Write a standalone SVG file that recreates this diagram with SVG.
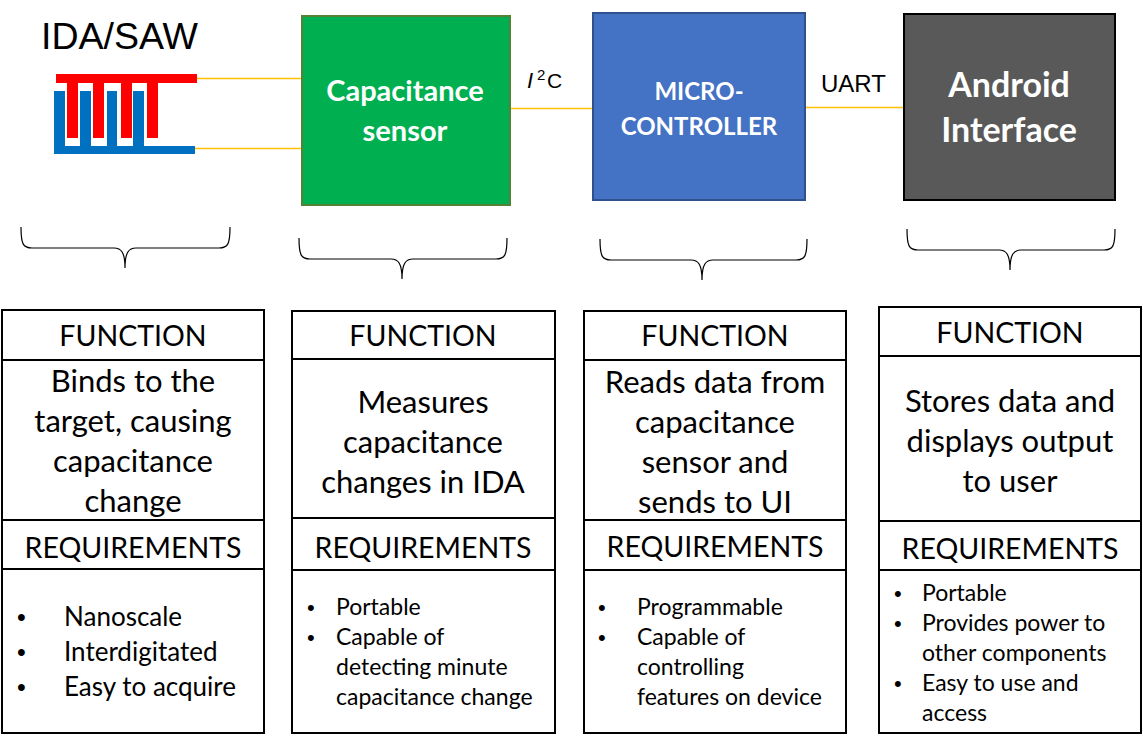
<svg xmlns="http://www.w3.org/2000/svg" width="1143" height="743" viewBox="0 0 1143 743">
<style>
.cal{font-family:Lato,"Open Sans","DejaVu Sans",sans-serif;fill:#000}
.hd{font-size:28.5px;text-anchor:middle}
.fn{font-size:31px;text-anchor:middle}
.rq{font-size:23px}
.rq1{font-size:26px}
.bu{font-family:"Liberation Sans",Arial,sans-serif;font-size:22px;fill:#000}
.bu1{font-family:"Liberation Sans",Arial,sans-serif;font-size:25px;fill:#000}
.cell{fill:#fff;stroke:#000;stroke-width:2}
.brace{fill:none;stroke:#000;stroke-width:1.2}
.wire{stroke:#FFC000;stroke-width:1.5;fill:none}
.bt{font-family:Lato,"Open Sans",sans-serif;font-weight:bold;fill:#fff;text-anchor:middle}
.ar{font-family:"Liberation Sans",Arial,sans-serif;fill:#000}
</style>
<rect width="1143" height="743" fill="#fff"/>

<g id="connectors">
<line class="wire" x1="197" y1="78.5" x2="302" y2="78.5"/>
<line class="wire" x1="195" y1="148.5" x2="302" y2="148.5"/>
<line class="wire" x1="510" y1="108.5" x2="593" y2="108.5"/>
<line class="wire" x1="805" y1="107.5" x2="903" y2="107.5"/>
<text class="ar" x="527" y="88" font-family="'Liberation Serif',serif" font-style="italic" font-size="22">I</text>
<text class="ar" x="537" y="80" font-family="'Liberation Serif',serif" font-size="15">2</text>
<text class="ar" x="547" y="88" font-size="21">C</text>
<text class="ar" x="821" y="92" font-size="24">UART</text>
</g>

<g id="ida">
<text class="ar" x="41" y="49" font-size="37.5">IDA/SAW</text>
<rect x="54" y="91" width="11" height="63" fill="#0070C0"/>
<rect x="80" y="91" width="11" height="60" fill="#0070C0"/>
<rect x="107" y="91" width="10" height="60" fill="#0070C0"/>
<rect x="133" y="91" width="11" height="60" fill="#0070C0"/>
<rect x="54" y="146" width="141" height="8" fill="#0070C0"/>
<rect x="56" y="74" width="141" height="9" fill="#FF0000"/>
<rect x="67" y="74" width="11" height="64" fill="#FF0000"/>
<rect x="93" y="74" width="11" height="64" fill="#FF0000"/>
<rect x="121" y="74" width="11" height="64" fill="#FF0000"/>
<rect x="147" y="74" width="11" height="64" fill="#FF0000"/>
</g>

<g id="capacitance-sensor">
<rect x="302" y="16" width="208" height="189" fill="#00B050" stroke="#538135" stroke-width="2"/>
<text class="bt" x="405" y="101" font-size="29">Capacitance</text>
<text class="bt" x="405" y="141" font-size="29">sensor</text>
</g>

<g id="microcontroller">
<rect x="593" y="13" width="212" height="187" fill="#4472C4" stroke="#2F528F" stroke-width="2"/>
<text class="bt" x="699" y="100" font-size="24">MICRO-</text>
<text class="bt" x="699" y="135" font-size="24">CONTROLLER</text>
</g>

<g id="android-interface">
<rect x="904" y="14" width="211" height="186" fill="#595959" stroke="#000" stroke-width="2"/>
<text class="bt" x="1009" y="97" font-size="34">Android</text>
<text class="bt" x="1009" y="142" font-size="34">Interface</text>
</g>

<g id="braces">
<path class="brace" d="M21,227 C21,244 23,248 32,248 L114,248 C121,248 125,252 125,268 C125,252 129,248 136,248 L219,248 C228,248 230,244 230,227"/>
<path class="brace" d="M299,238 C299,255 301,259 310,259 L391,259 C398,259 402,263 402,279 C402,263 406,259 413,259 L496,259 C505,259 507,255 507,238"/>
<path class="brace" d="M600,239 C600,256 602,260 611,260 L691,260 C698,260 702,264 702,280 C702,264 706,260 713,260 L796,260 C805,260 807,256 807,239"/>
<path class="brace" d="M907,229 C907,246 909,250 918,250 L999,250 C1006,250 1010,254 1010,270 C1010,254 1014,250 1021,250 L1104,250 C1113,250 1115,246 1115,229"/>
</g>

<g id="table-ida">
<rect class="cell" x="2" y="310" width="262" height="50"/>
<rect class="cell" x="2" y="360" width="262" height="160"/>
<rect class="cell" x="2" y="520" width="262" height="49"/>
<rect class="cell" x="2" y="569" width="262" height="164"/>
<text class="cal hd" x="133" y="346">FUNCTION</text>
<text class="cal fn" x="133" y="392">Binds to the</text>
<text class="cal fn" x="133" y="432">target, causing</text>
<text class="cal fn" x="133" y="472">capacitance</text>
<text class="cal fn" x="133" y="512">change</text>
<text class="cal hd" x="133" y="558">REQUIREMENTS</text>
<text class="bu1" x="17" y="626">•</text>
<text class="cal rq1" x="64" y="626">Nanoscale</text>
<text class="bu1" x="17" y="661">•</text>
<text class="cal rq1" x="64" y="661">Interdigitated</text>
<text class="bu1" x="17" y="696">•</text>
<text class="cal rq1" x="64" y="696">Easy to acquire</text>
</g>

<g id="table-sensor">
<rect class="cell" x="292" y="311" width="263" height="48"/>
<rect class="cell" x="292" y="359" width="263" height="159"/>
<rect class="cell" x="292" y="518" width="263" height="52"/>
<rect class="cell" x="292" y="570" width="263" height="163"/>
<text class="cal hd" x="423" y="346">FUNCTION</text>
<text class="cal fn" x="423" y="413">Measures</text>
<text class="cal fn" x="423" y="453">capacitance</text>
<text class="cal fn" x="423" y="493">changes in IDA</text>
<text class="cal hd" x="423" y="558">REQUIREMENTS</text>
<text class="bu" x="307" y="615">•</text>
<text class="cal rq" x="336" y="615">Portable</text>
<text class="bu" x="307" y="645">•</text>
<text class="cal rq" x="336" y="645">Capable of</text>
<text class="cal rq" x="336" y="675">detecting minute</text>
<text class="cal rq" x="336" y="705">capacitance change</text>
</g>

<g id="table-micro">
<rect class="cell" x="584" y="311" width="262" height="49"/>
<rect class="cell" x="584" y="360" width="262" height="160"/>
<rect class="cell" x="584" y="520" width="262" height="50"/>
<rect class="cell" x="584" y="570" width="262" height="163"/>
<text class="cal hd" x="715" y="346">FUNCTION</text>
<text class="cal fn" x="715" y="393">Reads data from</text>
<text class="cal fn" x="715" y="433">capacitance</text>
<text class="cal fn" x="715" y="473">sensor and</text>
<text class="cal fn" x="715" y="513">sends to UI</text>
<text class="cal hd" x="715" y="557">REQUIREMENTS</text>
<text class="bu" x="598" y="615">•</text>
<text class="cal rq" x="637" y="615">Programmable</text>
<text class="bu" x="598" y="645">•</text>
<text class="cal rq" x="637" y="645">Capable of</text>
<text class="cal rq" x="637" y="675">controlling</text>
<text class="cal rq" x="637" y="705">features on device</text>
</g>

<g id="table-android">
<rect class="cell" x="879" y="307" width="262" height="49"/>
<rect class="cell" x="879" y="356" width="262" height="165"/>
<rect class="cell" x="879" y="521" width="262" height="49"/>
<rect class="cell" x="879" y="570" width="262" height="163"/>
<text class="cal hd" x="1010" y="343">FUNCTION</text>
<text class="cal fn" x="1010" y="412">Stores data and</text>
<text class="cal fn" x="1010" y="452">displays output</text>
<text class="cal fn" x="1010" y="492">to user</text>
<text class="cal hd" x="1010" y="559">REQUIREMENTS</text>
<text class="bu" x="894" y="601">•</text>
<text class="cal rq" x="922" y="601">Portable</text>
<text class="bu" x="894" y="631">•</text>
<text class="cal rq" x="922" y="631">Provides power to</text>
<text class="cal rq" x="922" y="661">other components</text>
<text class="bu" x="894" y="691">•</text>
<text class="cal rq" x="922" y="691">Easy to use and</text>
<text class="cal rq" x="922" y="721">access</text>
</g>
</svg>
